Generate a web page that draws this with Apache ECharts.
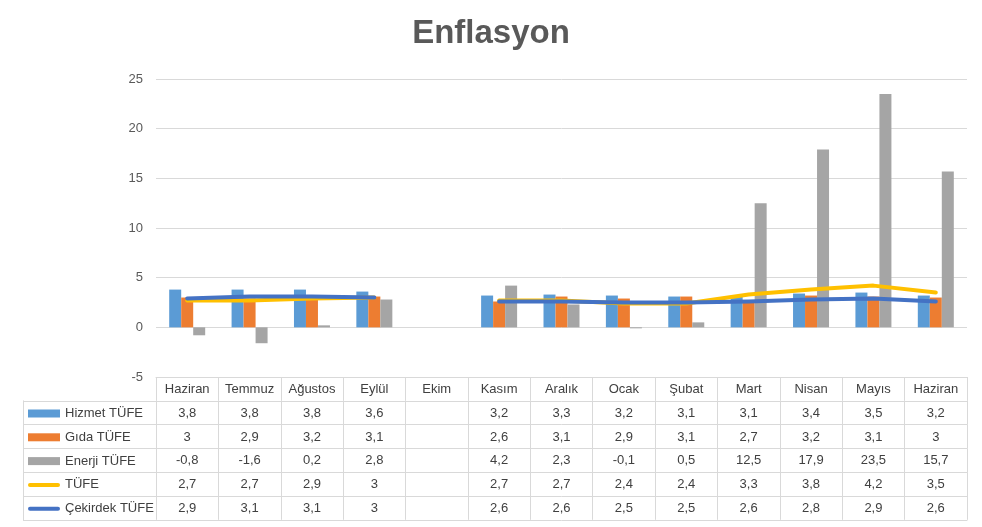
<!DOCTYPE html>
<html>
<head>
<meta charset="utf-8">
<script src="https://cdn.jsdelivr.net/npm/echarts@6/dist/echarts.min.js"></script>
<style>
html,body{margin:0;padding:0;background:#fff;}
#chart{width:982px;height:527px;}
</style>
</head>
<body>
<div id="chart"></div>
<script>
var months = ['Haziran','Temmuz','Ağustos','Eylül','Ekim','Kasım','Aralık','Ocak','Şubat','Mart','Nisan','Mayıs','Haziran'];
var hizmet = [3.8, 3.8, 3.8, 3.6, null, 3.2, 3.3, 3.2, 3.1, 3.1, 3.4, 3.5, 3.2];
var gida = [3, 2.9, 3.2, 3.1, null, 2.6, 3.1, 2.9, 3.1, 2.7, 3.2, 3.1, 3];
var enerji = [-0.8, -1.6, 0.2, 2.8, null, 4.2, 2.3, -0.1, 0.5, 12.5, 17.9, 23.5, 15.7];
var tufe = [2.7, 2.7, 2.9, 3, null, 2.7, 2.7, 2.4, 2.4, 3.3, 3.8, 4.2, 3.5];
var cekirdek = [2.9, 3.1, 3.1, 3, null, 2.6, 2.6, 2.5, 2.5, 2.6, 2.8, 2.9, 2.6];
var seriesNames = ['Hizmet TÜFE', 'Gıda TÜFE', 'Enerji TÜFE', 'TÜFE', 'Çekirdek TÜFE'];
var seriesValues = [hizmet, gida, enerji, tufe, cekirdek];
var colors = ['#5b9bd5', '#ed7d31', '#a5a5a5', '#ffc000', '#4472c4'];
var yTicks = {min: -5, max: 25, interval: 5};

var FONT = 'Liberation Sans';
var LINE = '#d9d9d9';
var TEXT = '#404040';
var ROW = 23.8;
var LINE_ICON = 'path://M2,0 L30,0 A2,2 0 0 1 30,4 L2,4 A2,2 0 0 1 2,0 Z';

function fmt(v) { return v == null ? '' : String(v).replace('.', ','); }

var chart = echarts.init(document.getElementById('chart'));

function tableAxis(offset, formatter) {
  var ax = {
    type: 'category', gridIndex: 0, data: months, position: 'bottom', offset: offset,
    axisLine: {show: true, onZero: false, lineStyle: {color: LINE, width: 1}},
    axisTick: {show: true, interval: 0, length: ROW, lineStyle: {color: LINE}},
    axisLabel: {interval: 0, margin: 6, color: TEXT, fontSize: 13, fontFamily: FONT},
    splitLine: {show: false}
  };
  if (formatter) ax.axisLabel.formatter = formatter;
  return ax;
}

var xAxes = [tableAxis(0)];
seriesValues.forEach(function (vals, k) {
  xAxes.push(tableAxis(ROW * (k + 1), function (v, i) { return fmt(vals[i]); }));
});
xAxes.push({
  type: 'category', gridIndex: 0, data: months, position: 'bottom', offset: ROW * 6,
  axisLine: {show: true, onZero: false, lineStyle: {color: LINE, width: 1}},
  axisTick: {show: false}, axisLabel: {show: false}, splitLine: {show: false}
});
xAxes.push({type: 'value', gridIndex: 1, min: 0, max: 1, show: false});

var series = [];
[0, 1, 2].forEach(function (k) {
  series.push({
    name: seriesNames[k], type: 'bar', xAxisIndex: 0, yAxisIndex: 0,
    data: seriesValues[k], barWidth: 12, barGap: '0%',
    itemStyle: {color: colors[k]}
  });
});
[3, 4].forEach(function (k) {
  series.push({
    name: seriesNames[k], type: 'line', xAxisIndex: 0, yAxisIndex: 0,
    data: seriesValues[k], symbol: 'none', connectNulls: false,
    lineStyle: {color: colors[k], width: 4, cap: 'round', join: 'round'},
    itemStyle: {color: colors[k]}
  });
});

chart.setOption({
  animation: false,
  color: colors,
  title: {
    text: 'Enflasyon', left: 'center', top: 12,
    textStyle: {fontFamily: FONT, fontWeight: 'bold', fontSize: 33, color: '#595959'}
  },
  legend: {
    orient: 'vertical', left: 28, top: 405.5, padding: 0, itemGap: 7.8, itemWidth: 32, itemHeight: 8,
    textStyle: {fontFamily: FONT, fontSize: 13, color: TEXT, lineHeight: 16},
    data: [
      {name: seriesNames[0], icon: 'rect'},
      {name: seriesNames[1], icon: 'rect'},
      {name: seriesNames[2], icon: 'rect'},
      {name: seriesNames[3], icon: LINE_ICON, itemStyle: {color: colors[3], borderWidth: 0}},
      {name: seriesNames[4], icon: LINE_ICON, itemStyle: {color: colors[4], borderWidth: 0}}
    ]
  },
  grid: [
    {left: 156, right: 15, top: 79, height: 298},
    {left: 23, top: 377 + ROW, width: 133, height: ROW * 5}
  ],
  xAxis: xAxes,
  yAxis: [
    {
      type: 'value', gridIndex: 0, min: yTicks.min, max: yTicks.max, interval: yTicks.interval,
      axisLine: {show: false}, axisTick: {show: false},
      axisLabel: {color: '#595959', fontSize: 13, fontFamily: FONT, margin: 13},
      splitLine: {lineStyle: {color: LINE, width: 1}}
    },
    {
      type: 'category', gridIndex: 1, data: seriesNames, inverse: true,
      axisLine: {show: true, lineStyle: {color: LINE, width: 1}},
      axisTick: {show: false}, axisLabel: {show: false},
      splitLine: {show: true, interval: 0, lineStyle: {color: LINE, width: 1}}
    }
  ],
  series: series
});
</script>
</body>
</html>
